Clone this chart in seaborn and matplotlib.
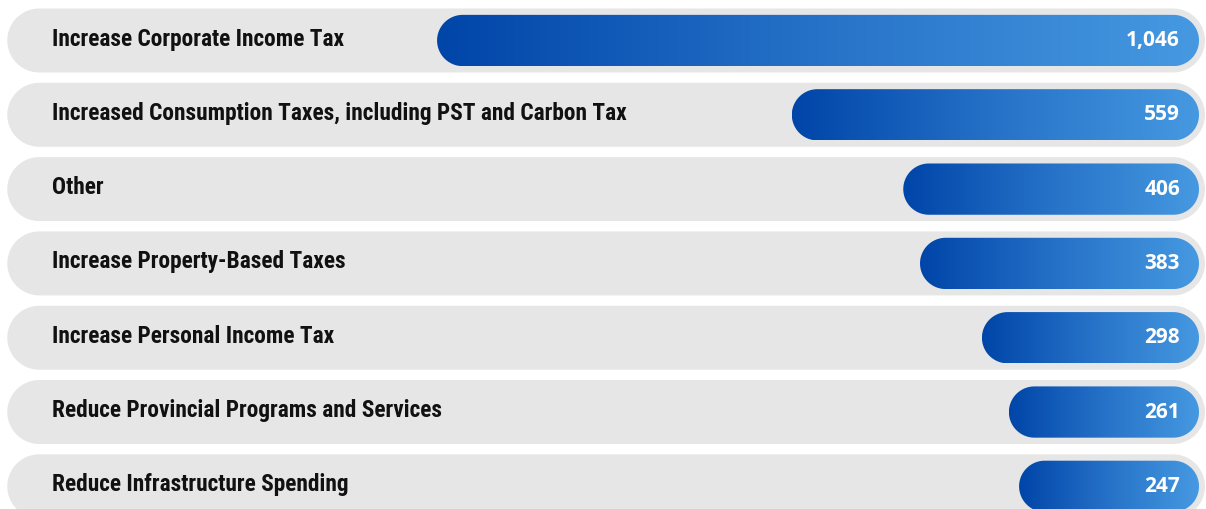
import numpy as np
import pandas as pd
import seaborn as sns
import matplotlib.pyplot as plt
from matplotlib.patches import Polygon
from matplotlib.colors import LinearSegmentedColormap

# data
categories = [
    "Increase Corporate Income Tax",
    "Increased Consumption Taxes, including PST and Carbon Tax",
    "Other",
    "Increase Property-Based Taxes",
    "Increase Personal Income Tax",
    "Reduce Provincial Programs and Services",
    "Reduce Infrastructure Spending",
]
values = [1046, 559, 406, 383, 298, 261, 247]
value_labels = ["1,046", "559", "406", "383", "298", "261", "247"]

df = pd.DataFrame({"option": categories, "count": values})

sns.set_style("white")
plt.rcParams["font.family"] = ["Roboto Condensed", "DejaVu Sans"]

W, H = 1206, 509
fig = plt.figure(figsize=(W / 100, H / 100), dpi=100)
ax = fig.add_axes([0, 0, 1, 1])

bar_h = 0.69
sns.barplot(data=df, x="count", y="option", orient="h", width=bar_h,
            color="#2a78cc", ax=ax)

# bars grow from the right edge to the left
x_lim = (1646, -9.6)
y_lim = (6.305, -0.545)
ax.set_xlim(*x_lim)
ax.set_ylim(*y_lim)
ax.axis("off")

# y data units per px over x data units per px
asp = (abs(y_lim[0] - y_lim[1]) / H) / (abs(x_lim[0] - x_lim[1]) / W)


def pill(x0, x1, yc, h, **kw):
    # stadium shape with true semicircle ends (in screen space)
    rx = (h / 2) / asp
    t = np.linspace(-np.pi / 2, np.pi / 2, 60)
    right = np.column_stack([x1 - rx + rx * np.cos(t), yc + h / 2 * np.sin(t)])
    t2 = np.linspace(np.pi / 2, 3 * np.pi / 2, 60)
    left = np.column_stack([x0 + rx + rx * np.cos(t2), yc + h / 2 * np.sin(t2)])
    return Polygon(np.vstack([right, left]), closed=True, **kw)


cmap = LinearSegmentedColormap.from_list("blues", ["#0045a8", "#2672c8", "#4699e1"])
grad = np.linspace(0, 1, 256).reshape(1, -1)

bg_h = 0.861
bg_x0, bg_x1 = -8.2, 1636

bars = list(ax.patches)
for i, p in enumerate(bars):
    x0, w = p.get_x(), p.get_width()
    yc = p.get_y() + p.get_height() / 2
    p.remove()

    # grey track behind each row
    ax.add_patch(pill(bg_x0, bg_x1, yc, bg_h, facecolor="#e6e6e6",
                      edgecolor="none", zorder=1))

    # gradient bar
    shape = pill(x0, x0 + w, yc, bar_h, facecolor="none", edgecolor="none", zorder=2)
    ax.add_patch(shape)
    im = ax.imshow(grad, cmap=cmap, aspect="auto", zorder=2,
                   extent=[x0 + w, x0, yc + bar_h / 2, yc - bar_h / 2])
    im.set_clip_path(shape)

    ax.text(52 / W, i - 0.02, categories[i], transform=ax.get_yaxis_transform(),
            ha="left", va="center", fontsize=16.8, fontweight="bold",
            color="#111111", zorder=3)
    ax.annotate(value_labels[i], xy=(0, i), xytext=(-19, 0),
                textcoords="offset pixels", ha="right", va="center",
                fontsize=15, fontweight="bold", color="white",
                family=["Open Sans", "DejaVu Sans"], zorder=3)

ax.set_xlim(*x_lim)
ax.set_ylim(*y_lim)

fig.savefig("out.png", dpi=100, facecolor="white")
